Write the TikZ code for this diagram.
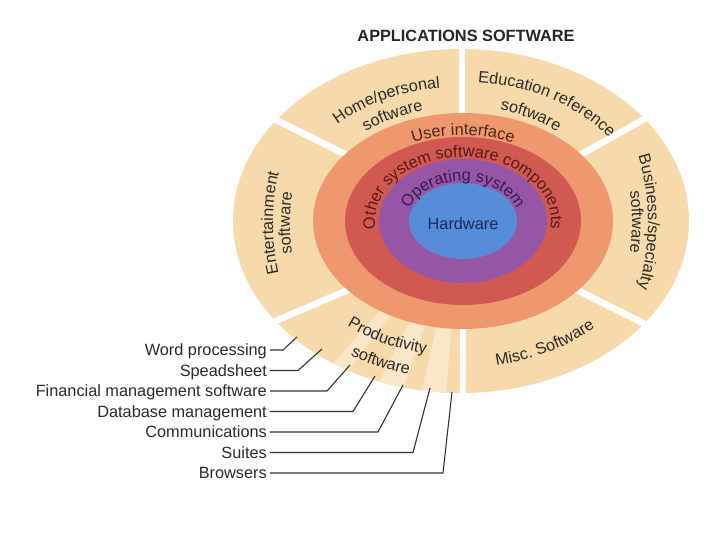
\documentclass[tikz,border=0pt]{standalone}
\usepackage{fontspec}
\setmainfont{Liberation Sans}
\usetikzlibrary{decorations.text}
\definecolor{peach}{HTML}{F6DAAC}
\definecolor{peachlight}{HTML}{FAE6C8}
\definecolor{ringorange}{HTML}{EF9870}
\definecolor{ringred}{HTML}{D05A52}
\definecolor{ringpurple}{HTML}{9656A6}
\definecolor{ringblue}{HTML}{568CD8}
\definecolor{labeltext}{HTML}{2E2A26}
\definecolor{uitext}{HTML}{4A2414}
\definecolor{ostext}{HTML}{5A1618}
\definecolor{optext}{HTML}{3A1650}
\definecolor{hwtext}{HTML}{1C2A5A}
\definecolor{leadercol}{HTML}{333333}
\newcommand\lblfont{\fontsize{16.3}{18}\selectfont}
\tikzset{
  curved/.style 2 args={decorate, decoration={text along path, text align=center, text color=#2, text={|\lblfont|#1}}},
  gapline/.style={draw=white, line width=6.5pt},
  leader/.style={draw=leadercol, line width=1.1pt},
  itemlabel/.style={anchor=base east, inner sep=0pt, font=\lblfont, text=labeltext},
}
\begin{document}
\begin{tikzpicture}[x=1pt,y=1pt]
\useasboundingbox[fill=white] (-461,-319) rectangle (259,221);
% title
\node[anchor=base, inner sep=0pt, font=\lblfont\bfseries, text=black!85] (title) at (5,179.5) {APPLICATIONS SOFTWARE};
% outer ring
\fill[peach] (0,0) ellipse [x radius=228pt, y radius=172pt];
\begin{scope}
  \clip (0,0) ellipse [x radius=228pt, y radius=172pt];
  \fill[peachlight] (0,0) -- (-132:300pt) -- (-127:300pt) -- cycle;
  \fill[peachlight] (0,0) -- (-117:300pt) -- (-109:300pt) -- cycle;
  \fill[peachlight] (0,0) -- (-103:300pt) -- (-95:300pt) -- cycle;
\end{scope}
% gaps
\draw[gapline] (1,95) -- (1,174);
\draw[gapline] (-106,62) -- (-205,111);
\draw[gapline] (110,61) -- (205,114);
\draw[gapline] (110,-66) -- (206,-114);
\draw[gapline] (-106,-66) -- (-204,-108);
\draw[gapline] (2,-98) -- (2,-174);
% inner rings
\fill[ringorange] (2,0) ellipse [x radius=150pt, y radius=108pt];
\fill[ringred] (2,0) ellipse [x radius=118pt, y radius=84pt];
\fill[ringpurple] (2,0) ellipse [x radius=84pt, y radius=62pt];
\fill[ringblue] (2,0) ellipse [x radius=54pt, y radius=38pt];
\node[anchor=base, inner sep=0pt, font=\lblfont, text=hwtext] (hw) at (2,-9) {Hardware};
% inner curved labels
\path[curved={User interface}{uitext}] ([shift={(2,0)}]150:120pt and 86pt) arc[start angle=150, end angle=30, x radius=120pt, y radius=86pt];
\path[curved={Other system software components}{ostext}] ([shift={(2,0)}]210:88pt and 64pt) arc[start angle=210, end angle=-30, x radius=88pt, y radius=64pt];
\path[curved={Operating system}{optext}] ([shift={(2,0)}]210:56pt and 40pt) arc[start angle=210, end angle=-30, x radius=56pt, y radius=40pt];
% sector labels
\path[curved={Home/personal}{labeltext}] (144:177.8pt and 134.2pt) arc[start angle=144, end angle=88, x radius=177.8pt, y radius=134.2pt];
\path[curved={software}{labeltext}] (137:151.6pt and 114.4pt) arc[start angle=137, end angle=97, x radius=151.6pt, y radius=114.4pt];
\path[curved={Education reference}{labeltext}] (92:185pt and 139.5pt) arc[start angle=92, end angle=28, x radius=185pt, y radius=139.5pt];
\path[curved={software}{labeltext}] (82.6:152.8pt and 115.2pt) arc[start angle=82.6, end angle=42.6, x radius=152.8pt, y radius=115.2pt];
\path[curved={Entertainment}{labeltext}] ([shift={(0,-2)}]205:188pt and 205pt) arc[start angle=205, end angle=155, x radius=188pt, y radius=205pt];
\path[curved={software}{labeltext}] ([shift={(0,-2)}]198:171pt and 188pt) arc[start angle=198, end angle=162, x radius=171pt, y radius=188pt];
\path[curved={Business/specialty}{labeltext}] ([shift={(0,-1)}]30:187pt and 207pt) arc[start angle=30, end angle=-30, x radius=187pt, y radius=207pt];
\path[curved={software}{labeltext}] ([shift={(0,-1)}]18:171pt and 190pt) arc[start angle=18, end angle=-18, x radius=171pt, y radius=190pt];
\path[curved={Misc. Software}{labeltext}] (-92:194.5pt and 146.7pt) arc[start angle=-92, end angle=-32, x radius=194.5pt, y radius=146.7pt];
\path[curved={Productivity}{labeltext}] (-141:179.4pt and 135.4pt) arc[start angle=-141, end angle=-91, x radius=179.4pt, y radius=135.4pt];
\path[curved={software}{labeltext}] (-133.6:209.8pt and 158.2pt) arc[start angle=-133.6, end angle=-93.6, x radius=209.8pt, y radius=158.2pt];
% item labels
\node[itemlabel] (wp) at (-194,-135) {Word processing};
\node[itemlabel] (ss) at (-194,-155.5) {Speadsheet};
\node[itemlabel] (fm) at (-194,-176) {Financial management software};
\node[itemlabel] (db) at (-194,-196.5) {Database management};
\node[itemlabel] (cm) at (-194,-217) {Communications};
\node[itemlabel] (su) at (-194,-237.5) {Suites};
\node[itemlabel] (br) at (-194,-258) {Browsers};
% leader coordinates
\coordinate (wpk) at (-178,-129);  \coordinate (wpe) at (-164,-116);
\coordinate (ssk) at (-163,-149.5);\coordinate (sse) at (-139,-128);
\coordinate (fmk) at (-134,-170);  \coordinate (fme) at (-111,-144);
\coordinate (dbk) at (-108,-190.5);\coordinate (dbe) at (-86,-155);
\coordinate (cmk) at (-83,-211);   \coordinate (cme) at (-58,-164);
\coordinate (suk) at (-48,-231.5); \coordinate (sue) at (-31,-167);
\coordinate (brk) at (-18,-252);   \coordinate (bre) at (-9,-171);
\draw[leader] ([xshift=3pt,yshift=6pt]wp.base east) -- (wpk) -- (wpe);
\draw[leader] ([xshift=3pt,yshift=6pt]ss.base east) -- (ssk) -- (sse);
\draw[leader] ([xshift=3pt,yshift=6pt]fm.base east) -- (fmk) -- (fme);
\draw[leader] ([xshift=3pt,yshift=6pt]db.base east) -- (dbk) -- (dbe);
\draw[leader] ([xshift=3pt,yshift=6pt]cm.base east) -- (cmk) -- (cme);
\draw[leader] ([xshift=3pt,yshift=6pt]su.base east) -- (suk) -- (sue);
\draw[leader] ([xshift=3pt,yshift=6pt]br.base east) -- (brk) -- (bre);
\end{tikzpicture}
\end{document}
